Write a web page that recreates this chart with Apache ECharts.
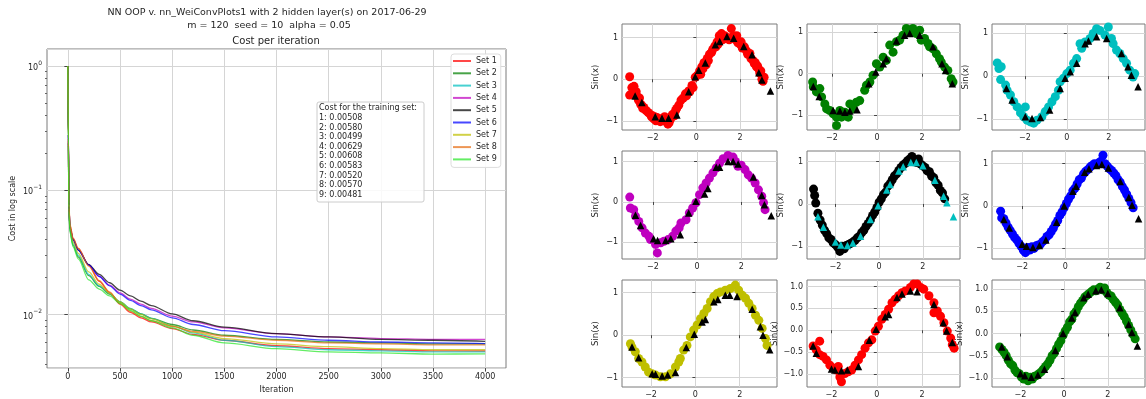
<!DOCTYPE html>
<html>
<head>
<meta charset="utf-8">
<script src="https://cdn.jsdelivr.net/npm/echarts@6/dist/echarts.min.js"></script>
<style>
html,body{margin:0;padding:0;background:#fff;}
#chart{width:1146px;height:399px;}
</style>
</head>
<body>
<div id="chart"></div>
<script>
// ---- cost curves (left panel) ----
const iterations = [0, 5, 10, 20, 50, 100, 200, 300, 400, 500, 600, 700, 800, 1000, 1200, 1500, 2000, 2500, 3000, 3500, 4000];
const cost1 = [1.0, 0.25, 0.075, 0.052, 0.041, 0.034, 0.025, 0.0185, 0.0150, 0.0121, 0.0104, 0.0094, 0.0087, 0.0077, 0.0069, 0.0062, 0.0056, 0.0053, 0.0052, 0.0051, 0.00508];
const cost2 = [1.0, 0.24, 0.070, 0.047, 0.036, 0.029, 0.0205, 0.0168, 0.0146, 0.0126, 0.0111, 0.0101, 0.0093, 0.0083, 0.0075, 0.0068, 0.0063, 0.0060, 0.0059, 0.0058, 0.00580];
const cost3 = [1.0, 0.24, 0.070, 0.048, 0.037, 0.030, 0.0210, 0.0170, 0.0147, 0.0127, 0.0112, 0.0101, 0.0093, 0.0081, 0.0071, 0.0062, 0.0055, 0.0052, 0.0051, 0.0050, 0.00499];
const cost4 = [1.0, 0.28, 0.075, 0.050, 0.040, 0.033, 0.0250, 0.0203, 0.0172, 0.0149, 0.0133, 0.0121, 0.0112, 0.0097, 0.0087, 0.0078, 0.0070, 0.0066, 0.0064, 0.0063, 0.00629];
const cost5 = [1.0, 0.28, 0.075, 0.050, 0.040, 0.033, 0.0252, 0.0210, 0.0180, 0.0157, 0.0141, 0.0128, 0.0118, 0.0101, 0.0089, 0.0079, 0.0070, 0.0066, 0.0063, 0.0062, 0.00608];
const cost6 = [1.0, 0.28, 0.075, 0.050, 0.040, 0.033, 0.0250, 0.0202, 0.0170, 0.0146, 0.0130, 0.0118, 0.0109, 0.0094, 0.0083, 0.0074, 0.0066, 0.0062, 0.0060, 0.0059, 0.00583];
const cost7 = [1.0, 0.26, 0.072, 0.050, 0.038, 0.031, 0.0220, 0.0175, 0.0148, 0.0126, 0.0111, 0.0100, 0.0092, 0.0081, 0.0072, 0.0064, 0.0058, 0.0055, 0.0053, 0.0052, 0.00520];
const cost8 = [1.0, 0.26, 0.078, 0.053, 0.041, 0.034, 0.0245, 0.0187, 0.0152, 0.0122, 0.0106, 0.0096, 0.0089, 0.0080, 0.0073, 0.0067, 0.0062, 0.0059, 0.0058, 0.0057, 0.00570];
const cost9 = [1.0, 0.23, 0.068, 0.046, 0.035, 0.028, 0.0190, 0.0160, 0.0141, 0.0123, 0.0108, 0.0097, 0.0089, 0.0078, 0.0068, 0.0059, 0.0053, 0.0050, 0.0049, 0.0048, 0.00481];
const setNames = ['Set 1', 'Set 2', 'Set 3', 'Set 4', 'Set 5', 'Set 6', 'Set 7', 'Set 8', 'Set 9'];
const finalCost = [0.00508, 0.00580, 0.00499, 0.00629, 0.00608, 0.00583, 0.00520, 0.00570, 0.00481];
const iterTicks = [0, 500, 1000, 1500, 2000, 2500, 3000, 3500, 4000];
const costMinorTicks = [0.004, 0.005, 0.006, 0.007, 0.008, 0.009, 0.02, 0.03, 0.04, 0.05, 0.06, 0.07, 0.08, 0.09,
  0.2, 0.3, 0.4, 0.5, 0.6, 0.7, 0.8, 0.9];

// ---- sin(x) panels: noisy samples (circles) and predictions (triangles) ----
const dots1 = [[-3.05,0.06],[-3.05,-0.38],[-2.95,-0.2],[-2.9,-0.22],[-2.85,-0.17],[-2.8,-0.35],[-2.75,-0.3],[-2.7,-0.42],[-2.65,-0.5],[-2.6,-0.45],[-2.55,-0.6],[-2.5,-0.62],[-2.45,-0.7],[-2.4,-0.68],[-2.3,-0.75],[-2.2,-0.8],[-2.1,-0.85],[-2.05,-0.9],[-2.0,-0.88],[-1.95,-0.95],[-1.9,-0.9],[-1.85,-1.0],[-1.8,-0.92],[-1.75,-0.98],[-1.7,-0.95],[-1.65,-1.02],[-1.6,-0.97],[-1.5,-1.0],[-1.45,-0.9],[-1.4,-1.0],[-1.35,-0.95],[-1.3,-1.08],[-1.25,-1.05],[-1.2,-0.98],[-1.15,-0.92],[-1.1,-0.85],[-1.0,-0.88],[-0.95,-0.75],[-0.9,-0.7],[-0.8,-0.62],[-0.7,-0.5],[-0.6,-0.45],[-0.5,-0.35],[-0.45,-0.4],[-0.35,-0.28],[-0.3,-0.3],[-0.2,-0.15],[-0.15,-0.2],[-0.05,0.05],[0.05,0.1],[0.15,0.2],[0.2,0.12],[0.25,0.3],[0.3,0.25],[0.35,0.4],[0.45,0.35],[0.5,0.5],[0.55,0.45],[0.6,0.6],[0.7,0.65],[0.75,0.72],[0.85,0.8],[0.9,0.78],[0.95,0.9],[1.0,0.85],[1.05,1.05],[1.1,1.0],[1.15,1.1],[1.2,0.95],[1.3,1.05],[1.35,0.98],[1.45,1.0],[1.5,0.95],[1.6,1.22],[1.65,1.0],[1.7,1.05],[1.8,0.95],[1.85,1.05],[1.9,0.88],[2.0,0.85],[2.05,0.9],[2.1,0.75],[2.2,0.78],[2.3,0.68],[2.35,0.6],[2.45,0.62],[2.5,0.5],[2.6,0.45],[2.65,0.38],[2.7,0.4],[2.75,0.3],[2.8,0.32],[2.85,0.25],[2.9,0.15],[2.95,0.2],[3.0,0.0],[3.05,-0.05],[3.1,0.05]];
const tri1 = [[-0.05,0.06],[-2.49,-0.56],[-2.8,-0.4],[-1.88,-0.9],[-1.57,-0.94],[-1.27,-0.94],[-0.89,-0.86],[-0.35,-0.3],[0.11,0.22],[0.41,0.39],[0.87,0.83],[1.07,0.91],[1.4,1.03],[1.71,0.99],[2.17,0.79],[2.55,0.59],[2.86,0.16],[3.0,-0.02],[3.39,-0.28]];

const dots2 = [[-2.86,-0.2],[-2.83,-0.32],[-2.69,-0.44],[-2.54,-0.36],[-2.46,-0.56],[-2.32,-0.73],[-2.24,-0.85],[-2.1,-0.89],[-1.95,-0.97],[-1.8,-1.05],[-1.8,-1.25],[-1.65,-0.89],[-1.58,-1.05],[-1.43,-0.93],[-1.28,-1.05],[-1.21,-0.73],[-1.06,-0.85],[-0.92,-0.69],[-0.77,-0.65],[-0.55,-0.4],[-0.47,-0.28],[-0.32,-0.2],[-0.18,-0.04],[-0.03,0.24],[0.12,0.16],[0.27,0.4],[0.41,0.32],[0.56,0.69],[0.71,0.52],[0.86,0.77],[1.0,0.81],[1.15,0.93],[1.3,1.09],[1.45,1.0],[1.59,1.09],[1.74,0.97],[1.89,1.05],[1.96,0.81],[2.11,0.85],[2.26,0.73],[2.33,0.65],[2.48,0.6],[2.63,0.48],[2.77,0.36],[2.85,0.28],[3.0,0.16],[3.14,0.08],[3.29,-0.12],[3.37,-0.2]];
const tri2 = [[-2.83,-0.31],[-2.57,-0.55],[-1.95,-0.89],[-1.65,-0.9],[-1.43,-0.93],[-1.21,-0.9],[-0.89,-0.87],[-0.37,-0.24],[-0.06,0.04],[0.27,0.24],[0.41,0.36],[0.86,0.79],[1.22,0.93],[1.45,0.97],[1.89,0.93],[2.48,0.65],[2.88,0.24],[3.04,0.08],[3.34,-0.24]];

const dots3 = [[-3.32,0.31],[-3.24,0.18],[-3.16,-0.08],[-3.13,0.22],[-2.92,-0.21],[-2.85,-0.33],[-2.69,-0.44],[-2.53,-0.6],[-2.37,-0.72],[-2.21,-0.86],[-2.06,-0.95],[-1.98,-0.72],[-1.9,-1.03],[-1.74,-1.07],[-1.58,-1.1],[-1.42,-1.03],[-1.19,-0.95],[-1.03,-0.83],[-0.87,-0.72],[-0.71,-0.6],[-0.55,-0.48],[-0.4,-0.33],[-0.32,-0.13],[-0.16,-0.05],[0.0,0.06],[0.16,0.14],[0.32,0.3],[0.47,0.41],[0.63,0.76],[0.71,0.65],[0.87,0.8],[1.11,0.88],[1.26,1.0],[1.42,1.11],[1.58,1.07],[1.82,0.96],[1.98,1.15],[2.13,0.88],[2.21,0.76],[2.37,0.61],[2.53,0.53],[2.69,0.41],[2.85,0.3],[3.0,0.14],[3.16,-0.02],[3.24,0.06]];
const tri3 = [[-2.88,-0.29],[-2.61,-0.56],[-1.98,-0.95],[-1.66,-0.99],[-1.26,-0.97],[-0.82,-0.79],[-0.32,-0.29],[-0.08,-0.05],[0.16,0.1],[0.47,0.3],[0.87,0.76],[1.03,0.82],[1.42,0.92],[1.9,0.88],[2.61,0.53],[2.92,0.22],[3.08,0.02],[3.4,-0.25]];

const dots4 = [[-3.05,0.12],[-3.02,-0.15],[-2.87,-0.19],[-2.79,-0.35],[-2.64,-0.48],[-2.49,-0.64],[-2.34,-0.77],[-2.18,-0.85],[-2.11,-0.93],[-1.88,-1.05],[-1.8,-1.26],[-1.65,-1.01],[-1.5,-0.97],[-1.31,-0.93],[-1.11,-0.85],[-0.96,-0.72],[-0.81,-0.64],[-0.73,-0.52],[-0.5,-0.44],[-0.35,-0.27],[-0.2,-0.15],[-0.05,-0.02],[0.11,0.18],[0.26,0.35],[0.41,0.47],[0.56,0.59],[0.72,0.72],[0.87,0.84],[1.02,0.96],[1.18,1.07],[1.4,1.15],[1.63,1.11],[1.74,1.0],[1.85,0.88],[2.0,0.91],[2.17,0.8],[2.32,0.67],[2.47,0.59],[2.63,0.47],[2.78,0.3],[2.93,0.14],[3.01,-0.02],[3.08,-0.19]];
const tri4 = [[-2.79,-0.33],[-2.56,-0.58],[-1.97,-0.91],[-1.79,-0.95],[-1.42,-0.95],[-1.19,-0.91],[-0.76,-0.81],[-0.38,-0.27],[-0.05,0.02],[0.34,0.2],[0.49,0.33],[0.87,0.86],[1.02,0.86],[1.4,1.0],[1.63,1.0],[1.86,0.94],[2.55,0.62],[2.93,0.16],[3.05,-0.07],[3.36,-0.34]];

const dots5 = [[-3.0,0.35],[-2.95,0.2],[-2.9,0.02],[-2.8,-0.22],[-2.7,-0.38],[-2.6,-0.5],[-2.5,-0.62],[-2.4,-0.7],[-2.3,-0.8],[-2.2,-0.84],[-2.1,-0.92],[-2.0,-0.96],[-1.9,-1.02],[-1.8,-1.12],[-1.7,-1.0],[-1.6,-1.06],[-1.5,-0.98],[-1.4,-0.96],[-1.3,-0.93],[-1.2,-0.9],[-1.1,-0.86],[-1.0,-0.8],[-0.9,-0.76],[-0.8,-0.68],[-0.7,-0.62],[-0.6,-0.53],[-0.5,-0.46],[-0.4,-0.38],[-0.3,-0.27],[-0.2,-0.19],[-0.1,-0.08],[0.0,0.04],[0.1,0.12],[0.2,0.22],[0.3,0.28],[0.4,0.42],[0.5,0.48],[0.6,0.57],[0.7,0.66],[0.8,0.71],[0.9,0.79],[1.0,0.86],[1.1,0.92],[1.2,0.96],[1.3,1.02],[1.4,1.06],[1.5,1.12],[1.6,1.04],[1.7,0.98],[1.8,1.06],[1.9,0.94],[2.0,0.9],[2.1,0.86],[2.2,0.78],[2.3,0.76],[2.4,0.66],[2.5,0.62],[2.6,0.5],[2.7,0.44],[2.8,0.32],[2.9,0.26],[3.0,0.12]];
const tri5 = [[-2.8,-0.3],[-2.55,-0.55],[-2.0,-0.9],[-1.75,-0.97],[-1.45,-0.98],[-1.2,-0.92],[-0.85,-0.76],[-0.4,-0.37],[-0.05,-0.04],[0.35,0.33],[0.5,0.46],[0.9,0.78],[1.1,0.88],[1.45,0.98],[1.7,0.98],[2.0,0.9],[2.55,0.56],[2.95,0.18],[3.1,0.03],[3.4,-0.3]];

const dots6 = [[-3.0,-0.12],[-2.95,-0.28],[-2.85,-0.3],[-2.75,-0.4],[-2.65,-0.5],[-2.55,-0.58],[-2.45,-0.66],[-2.35,-0.74],[-2.25,-0.8],[-2.15,-0.88],[-2.05,-0.95],[-1.95,-1.04],[-1.85,-1.1],[-1.75,-0.98],[-1.65,-1.04],[-1.55,-0.96],[-1.45,-1.0],[-1.35,-0.94],[-1.25,-0.92],[-1.15,-0.9],[-1.05,-0.84],[-0.95,-0.8],[-0.85,-0.72],[-0.75,-0.68],[-0.65,-0.6],[-0.55,-0.52],[-0.45,-0.42],[-0.35,-0.34],[-0.25,-0.22],[-0.15,-0.14],[-0.05,-0.04],[0.05,0.06],[0.15,0.16],[0.25,0.24],[0.35,0.36],[0.45,0.42],[0.55,0.52],[0.65,0.62],[0.75,0.66],[0.85,0.76],[0.95,0.82],[1.05,0.86],[1.15,0.92],[1.25,0.96],[1.35,1.0],[1.45,0.98],[1.55,1.02],[1.65,1.06],[1.75,1.2],[1.85,1.0],[1.95,0.94],[2.05,0.88],[2.15,0.84],[2.25,0.78],[2.35,0.72],[2.45,0.62],[2.55,0.56],[2.65,0.46],[2.75,0.38],[2.85,0.28],[2.95,0.18],[3.05,0.08],[3.15,-0.04]];
const tri6 = [[-2.85,-0.32],[-2.6,-0.52],[-2.0,-0.9],[-1.8,-0.95],[-1.5,-0.98],[-1.2,-0.93],[-0.9,-0.8],[-0.4,-0.38],[-0.05,0.0],[0.35,0.35],[0.5,0.47],[0.9,0.8],[1.1,0.88],[1.45,0.96],[1.7,0.98],[2.0,0.9],[2.55,0.58],[2.95,0.2],[3.1,0.02],[3.4,-0.3]];

const dots7 = [[-2.93,-0.2],[-2.86,-0.28],[-2.71,-0.39],[-2.56,-0.55],[-2.41,-0.63],[-2.26,-0.75],[-2.11,-0.87],[-1.95,-0.91],[-1.8,-0.94],[-1.58,-0.98],[-1.35,-0.98],[-1.13,-0.91],[-0.9,-0.75],[-0.75,-0.63],[-0.68,-0.55],[-0.53,-0.35],[-0.38,-0.24],[-0.23,-0.04],[-0.08,0.12],[0.08,0.24],[0.23,0.39],[0.38,0.51],[0.53,0.63],[0.68,0.79],[0.83,0.91],[0.98,0.98],[1.13,1.02],[1.35,1.06],[1.58,1.1],[1.8,1.18],[1.95,1.06],[2.11,0.94],[2.26,0.87],[2.41,0.75],[2.56,0.63],[2.71,0.47],[2.86,0.35],[3.01,0.16],[3.16,-0.08],[3.23,-0.24]];
const tri7 = [[-2.86,-0.28],[-2.56,-0.53],[-1.95,-0.91],[-1.8,-0.92],[-1.5,-0.96],[-1.25,-0.94],[-0.9,-0.88],[-0.41,-0.29],[-0.05,0.02],[0.3,0.31],[0.45,0.37],[0.83,0.79],[1.01,0.84],[1.35,0.94],[1.55,0.94],[1.88,0.91],[2.56,0.61],[2.93,0.2],[3.05,0.0],[3.35,-0.34]];

const dots8 = [[-2.81,-0.36],[-2.67,-0.45],[-2.52,-0.25],[-2.52,-0.56],[-2.37,-0.6],[-2.22,-0.68],[-2.07,-0.8],[-1.93,-0.87],[-1.78,-0.91],[-1.7,-0.83],[-1.63,-1.07],[-1.56,-1.18],[-1.41,-0.99],[-1.26,-0.95],[-1.11,-0.91],[-0.96,-0.8],[-0.81,-0.68],[-0.67,-0.56],[-0.52,-0.41],[-0.37,-0.29],[-0.22,-0.22],[-0.07,-0.02],[0.07,0.09],[0.22,0.25],[0.37,0.36],[0.52,0.48],[0.67,0.63],[0.81,0.71],[0.96,0.79],[1.11,0.86],[1.26,0.9],[1.48,0.98],[1.63,1.06],[1.78,1.06],[1.93,0.98],[2.07,0.94],[2.3,0.79],[2.52,0.63],[2.52,0.4],[2.67,0.44],[2.81,0.32],[2.96,0.17],[3.11,-0.02],[3.26,-0.18],[3.33,-0.33],[3.41,-0.41]];
const tri8 = [[-2.81,-0.36],[-2.67,-0.53],[-2.0,-0.89],[-1.85,-0.91],[-1.56,-0.93],[-1.3,-0.91],[-0.81,-0.83],[-0.33,-0.23],[-0.03,0.02],[0.37,0.31],[0.52,0.36],[0.89,0.75],[1.11,0.83],[1.48,0.9],[1.78,0.88],[2.52,0.59],[2.93,0.17],[3.08,-0.02],[3.33,-0.28]];

const dots9 = [[-2.95,-0.3],[-2.85,-0.36],[-2.75,-0.42],[-2.65,-0.5],[-2.55,-0.6],[-2.45,-0.68],[-2.35,-0.72],[-2.25,-0.82],[-2.15,-0.88],[-2.05,-0.9],[-1.95,-0.98],[-1.85,-1.02],[-1.75,-0.96],[-1.65,-1.06],[-1.55,-0.98],[-1.45,-1.02],[-1.35,-0.96],[-1.25,-0.94],[-1.15,-0.9],[-1.05,-0.86],[-0.95,-0.8],[-0.85,-0.74],[-0.75,-0.68],[-0.65,-0.6],[-0.55,-0.5],[-0.45,-0.44],[-0.35,-0.34],[-0.25,-0.24],[-0.15,-0.16],[-0.05,-0.04],[0.05,0.06],[0.15,0.14],[0.25,0.26],[0.35,0.32],[0.45,0.44],[0.55,0.5],[0.65,0.6],[0.75,0.68],[0.85,0.74],[0.95,0.82],[1.05,0.86],[1.15,0.9],[1.25,0.94],[1.35,0.98],[1.45,0.96],[1.55,1.0],[1.65,1.04],[1.75,0.98],[1.85,1.02],[1.95,0.92],[2.05,0.86],[2.15,0.84],[2.25,0.76],[2.35,0.7],[2.45,0.64],[2.55,0.54],[2.65,0.46],[2.75,0.38],[2.85,0.28],[2.95,0.18],[3.05,0.08],[3.15,-0.02],[3.25,-0.12]];
const tri9 = [[-2.85,-0.3],[-2.6,-0.52],[-2.0,-0.9],[-1.8,-0.95],[-1.5,-0.98],[-1.2,-0.93],[-0.9,-0.8],[-0.4,-0.38],[-0.05,0.0],[0.35,0.35],[0.5,0.47],[0.9,0.8],[1.1,0.88],[1.45,0.96],[1.7,0.98],[2.0,0.9],[2.55,0.58],[2.95,0.2],[3.1,0.02],[3.35,-0.28]];

const sinXTicks = [-2, 0, 2];
const sinYTicks = [-1, 0, 1];
const sinYTicksHalf = [-1, -0.5, 0, 0.5, 1];

// ---- styles / layout ----
const lineColors = ['rgba(255,0,0,0.72)', 'rgba(0,128,0,0.72)', 'rgba(0,191,191,0.72)', 'rgba(191,0,191,0.72)',
  'rgba(0,0,0,0.72)', 'rgba(0,0,255,0.72)', 'rgba(191,191,0,0.72)', 'rgba(230,110,20,0.72)', 'rgba(40,230,40,0.72)'];
const costSeries = [cost1, cost2, cost3, cost4, cost5, cost6, cost7, cost8, cost9];

const panels = [
  {dots: dots1, tris: tri1, dot: '#ff0000', tri: '#000000', x: [-3.40, 3.69], y: [-1.22, 1.33], yt: sinYTicks},
  {dots: dots2, tris: tri2, dot: '#008000', tri: '#000000', x: [-3.11, 3.68], y: [-1.36, 1.20], yt: sinYTicks},
  {dots: dots3, tris: tri3, dot: '#00bfbf', tri: '#000000', x: [-3.57, 3.73], y: [-1.26, 1.22], yt: sinYTicks},
  {dots: dots4, tris: tri4, dot: '#bf00bf', tri: '#000000', x: [-3.40, 3.62], y: [-1.41, 1.26], yt: sinYTicks},
  {dots: dots5, tris: tri5, dot: '#000000', tri: '#00bfbf', x: [-3.30, 3.70], y: [-1.30, 1.25], yt: sinYTicks},
  {dots: dots6, tris: tri6, dot: '#0000ff', tri: '#000000', x: [-3.40, 3.70], y: [-1.25, 1.30], yt: sinYTicks},
  {dots: dots7, tris: tri7, dot: '#bfbf00', tri: '#000000', x: [-3.31, 3.68], y: [-1.22, 1.30], yt: sinYTicks},
  {dots: dots8, tris: tri8, dot: '#ff0000', tri: '#000000', x: [-3.08, 3.67], y: [-1.30, 1.15], yt: sinYTicksHalf},
  {dots: dots9, tris: tri9, dot: '#008000', tri: '#000000', x: [-3.30, 3.70], y: [-1.20, 1.20], yt: sinYTicksHalf}
];
const colLeft = [622, 807, 992], colWidth = [155, 153, 153];
const rowTop = [24, 151, 280], rowHeight = [106, 108, 107];

const FONT = 'DejaVu Sans';
const TXT = '#262626';
const GRIDC = '#d5d5d5';
const SPINE = '#7a7a7a';

function minusFmt(v, digits) {
  const s = digits ? Math.abs(v).toFixed(digits) : String(Math.abs(v));
  return (v < 0 ? '\u2212' : '') + s;
}

const grids = [{left: 47, top: 49, width: 459, height: 320, show: true, borderColor: SPINE, borderWidth: 1, backgroundColor: '#fff'}];
const xAxes = [{
  type: 'value', gridIndex: 0, min: -200, max: 4200, splitNumber: 8,
  axisLine: {show: false},
  axisTick: {show: true, length: 3.5, customValues: iterTicks, lineStyle: {color: '#444'}},
  axisLabel: {fontSize: 8, color: TXT, fontFamily: FONT, margin: 5, customValues: iterTicks, formatter: v => String(v)},
  splitLine: {show: true, lineStyle: {color: GRIDC, width: 1}},
  name: 'Iteration', nameLocation: 'middle', nameGap: 16,
  nameTextStyle: {fontSize: 8, color: TXT, fontFamily: FONT}
}];
const yAxes = [{
  type: 'log', logBase: 10, gridIndex: 0, min: 0.0037, max: 1.37, splitNumber: 3,
  axisLine: {show: false},
  axisTick: {show: true, length: 3.5, lineStyle: {color: '#444'}},
  axisLabel: {
    fontFamily: FONT, color: TXT, margin: 5, showMinLabel: false, showMaxLabel: false,
    formatter: function (v) {
      const lg = Math.log10(v), e = Math.round(lg);
      if (Math.abs(lg - e) > 1e-6) return '';
      return '{b|10}{s|' + (e < 0 ? '\u2212' : '') + Math.abs(e) + '}';
    },
    rich: {
      b: {fontSize: 8, fontFamily: FONT, color: TXT, lineHeight: 12, verticalAlign: 'bottom'},
      s: {fontSize: 6, fontFamily: FONT, color: TXT, lineHeight: 12, verticalAlign: 'top'}
    }
  },
  splitLine: {show: true, lineStyle: {color: GRIDC, width: 1}},
  name: 'Cost in log scale', nameLocation: 'middle', nameGap: 30,
  nameTextStyle: {fontSize: 8, color: TXT, fontFamily: FONT}
}, {
  // minor ticks of the log axis
  type: 'log', logBase: 10, gridIndex: 0, min: 0.0037, max: 1.37, position: 'left',
  axisLine: {show: false}, splitLine: {show: false}, axisLabel: {show: false},
  axisTick: {show: true, length: 2, customValues: costMinorTicks, lineStyle: {color: '#666'}}
}];

const series = costSeries.map((c, i) => ({
  type: 'line', name: setNames[i], xAxisIndex: 0, yAxisIndex: 0,
  data: iterations.map((it, j) => [it, c[j]]),
  showSymbol: false, symbol: 'none', smooth: 0.3, smoothMonotone: 'x',
  lineStyle: {color: lineColors[i], width: 1.3},
  itemStyle: {color: lineColors[i]},
  animation: false
}));

panels.forEach((p, k) => {
  const gi = k + 1, r = Math.floor(k / 3), c = k % 3;
  grids.push({left: colLeft[c], top: rowTop[r], width: colWidth[c], height: rowHeight[r], show: true, borderColor: SPINE, borderWidth: 1});
  const half = p.yt.length > 3;
  xAxes.push({
    type: 'value', gridIndex: gi, min: p.x[0], max: p.x[1], splitNumber: 3,
    axisLine: {show: false},
    axisTick: {show: true, length: 3, customValues: sinXTicks, lineStyle: {color: '#444'}},
    axisLabel: {fontSize: 8, color: TXT, fontFamily: FONT, margin: 4, customValues: sinXTicks, formatter: v => minusFmt(v)},
    splitLine: {show: true, lineStyle: {color: GRIDC, width: 1}}
  });
  yAxes.push({
    type: 'value', gridIndex: gi, min: p.y[0], max: p.y[1], splitNumber: half ? 5 : 2,
    axisLine: {show: false},
    axisTick: {show: true, length: 3, customValues: p.yt, lineStyle: {color: '#444'}},
    axisLabel: {fontSize: 8, color: TXT, fontFamily: FONT, margin: 4, customValues: p.yt,
      formatter: v => minusFmt(v, half ? 1 : 0)},
    splitLine: {show: true, lineStyle: {color: GRIDC, width: 1}},
    name: 'Sin(x)', nameLocation: 'middle', nameGap: half ? 28 : 22,
    nameTextStyle: {fontSize: 8.5, color: TXT, fontFamily: FONT}
  });
  series.push({
    type: 'scatter', xAxisIndex: gi, yAxisIndex: yAxes.length - 1, data: p.dots,
    symbol: 'circle', symbolSize: 9, itemStyle: {color: p.dot, opacity: 1}, animation: false, z: 2
  });
  series.push({
    type: 'scatter', xAxisIndex: gi, yAxisIndex: yAxes.length - 1, data: p.tris,
    symbol: 'triangle', symbolSize: 7.5, itemStyle: {color: p.tri, opacity: 1}, animation: false, z: 3
  });
});

const annotation = ['Cost for the training set:'].concat(finalCost.map((v, i) => (i + 1) + ': ' + v.toFixed(5))).join('\n');

const chart = echarts.init(document.getElementById('chart'), null, {renderer: 'canvas'});
chart.setOption({
  animation: false,
  backgroundColor: '#ffffff',
  grid: grids,
  xAxis: xAxes,
  yAxis: yAxes,
  series: series,
  legend: {
    data: setNames, orient: 'vertical', left: 451, top: 54,
    icon: 'rect', itemWidth: 18, itemHeight: 2, itemGap: 2.3,
    padding: [2, 4, 3, 2], backgroundColor: 'rgba(255,255,255,0.9)',
    borderColor: '#dddddd', borderWidth: 1, borderRadius: 3,
    textStyle: {fontSize: 8, color: TXT, fontFamily: FONT, lineHeight: 10}
  },
  graphic: [
    {type: 'text', x: 267, y: 13, z: 10, style: {text: 'NN OOP v. nn_WeiConvPlots1 with 2 hidden layer(s) on 2017-06-29', align: 'center', verticalAlign: 'middle', font: '9.5px "DejaVu Sans"', fill: TXT}},
    {type: 'text', x: 269, y: 26, z: 10, style: {text: 'm = 120  seed = 10  alpha = 0.05', align: 'center', verticalAlign: 'middle', font: '9.5px "DejaVu Sans"', fill: TXT}},
    {type: 'text', x: 276, y: 41, z: 10, style: {text: 'Cost per iteration', align: 'center', verticalAlign: 'middle', font: '10px "DejaVu Sans"', fill: TXT}},
    {type: 'rect', z: 10, shape: {x: 317, y: 102, width: 107, height: 100, r: 2}, style: {fill: 'rgba(255,255,255,0.85)', stroke: '#cccccc', lineWidth: 1}},
    {type: 'text', x: 319, y: 103.5, z: 11, style: {text: annotation, align: 'left', verticalAlign: 'top', font: '8px "DejaVu Sans"', lineHeight: 9.6, fill: TXT}}
  ]
});
</script>
</body>
</html>
